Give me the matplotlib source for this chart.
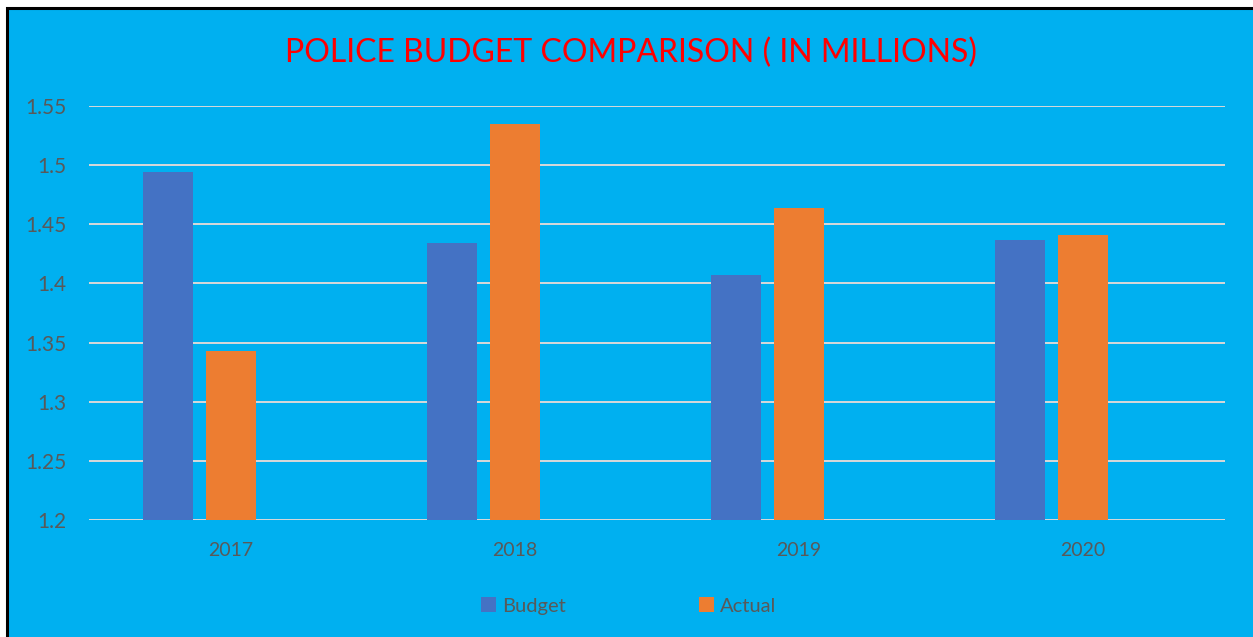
import matplotlib.pyplot as plt
from matplotlib.patches import Rectangle
import numpy as np

years = ['2017', '2018', '2019', '2020']
budget = [1.494, 1.434, 1.407, 1.437]
actual = [1.343, 1.535, 1.464, 1.441]
yticks = [1.2, 1.25, 1.3, 1.35, 1.4, 1.45, 1.5, 1.55]
ylabels = ['1.2', '1.25', '1.3', '1.35', '1.4', '1.45', '1.5', '1.55']

bg = '#00B0F0'
txt = '#595959'
plt.rcParams['font.family'] = ['Lato', 'DejaVu Sans']

W, H = 1253, 637
fig = plt.figure(figsize=(W / 100, H / 100), dpi=100, facecolor='white')

# blue panel with black frame on left/top
fig.patches.append(Rectangle((7 / W, -0.05), 1.1, 1 - 8 / H + 0.05,
                             transform=fig.transFigure, facecolor=bg,
                             edgecolor='black', linewidth=2.2, zorder=-1))

ax = fig.add_axes([89 / W, (H - 520) / H, (1225 - 89) / W, (520 - 106) / H])
ax.set_facecolor('none')

x = np.arange(len(years))
bw = 50 / 284
ax.bar(x - 63 / 284, budget, bw, color='#4472C4', label='Budget', zorder=3)
ax.bar(x, actual, bw, color='#ED7D31', label='Actual', zorder=3)

ax.set_xlim(-0.5, len(years) - 0.5)
ax.set_ylim(1.2, 1.55)
ax.set_yticks(yticks)
ax.set_yticklabels(ylabels)
ax.set_xticks(x)
ax.set_xticklabels(years)
ax.grid(axis='y', color='#D9D9D9', linewidth=1.4, zorder=0)
ax.tick_params(length=0, colors=txt, labelsize=14)
ax.tick_params(axis='y', pad=16.5, labelsize=15)
ax.tick_params(axis='x', pad=16)
for s in ax.spines.values():
    s.set_visible(False)

fig.text(631 / W, 1 - 53 / H, 'POLICE BUDGET COMPARISON ( IN MILLIONS)',
         color='#FF0000', fontsize=23, ha='center', va='center')

leg = fig.legend(loc='center', bbox_to_anchor=(629 / W, 1 - 606 / H), ncol=2,
                 frameon=False, fontsize=14.5, handlelength=0.75, handleheight=0.75,
                 handletextpad=0.3, columnspacing=6.6)
for t in leg.get_texts():
    t.set_color(txt)

fig.savefig('out.png', dpi=100, facecolor='white')
